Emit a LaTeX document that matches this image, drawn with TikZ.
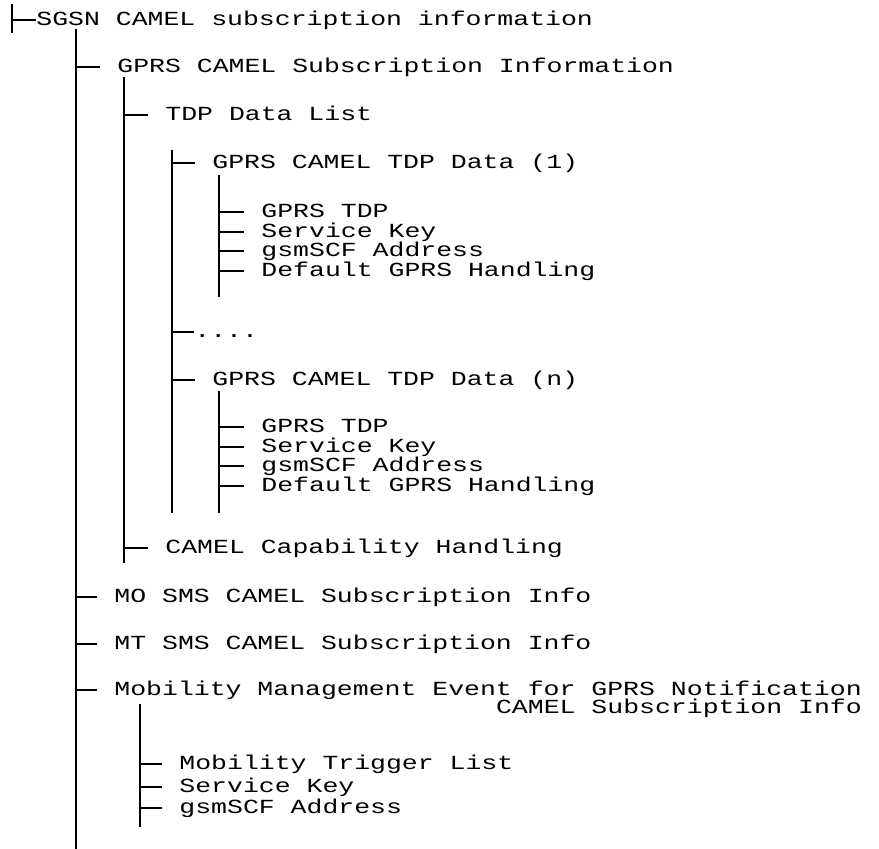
\documentclass[tikz,border=0pt]{standalone}
\usepackage{fontspec}
\usepackage{tikz}
\usetikzlibrary{calc}
\newfontfamily\treefont[FakeStretch=1.325]{Liberation Mono}

\begin{document}
\begin{tikzpicture}[
    x=0.5pt, y=-0.5pt,
    entry/.style={anchor=base west, inner sep=0pt,
                  text height=6.4pt, text depth=0pt,
                  font=\treefont\fontsize{10pt}{11pt}\selectfont},
    trunk/.style={line width=1pt},
    twig/.style={line width=1pt}
]
\useasboundingbox (0,0) rectangle (879,849);

% Entries
\node[entry] (sgsn)    at (36,26)  {SGSN CAMEL subscription information};
\node[entry] (gprs)    at (117,73) {GPRS CAMEL Subscription Information};
\node[entry] (tdplist) at (165,121) {TDP Data List};
\node[entry] (tdpone)  at (212,169) {GPRS CAMEL TDP Data (1)};
\node[entry] (oneA)    at (261,218) {GPRS TDP};
\node[entry] (oneB)    at (261,238) {Service Key};
\node[entry] (oneC)    at (261,257) {gsmSCF Address};
\node[entry] (oneD)    at (261,277) {Default GPRS Handling};
\node[entry] (dots)    at (194,338) {....};
\node[entry] (tdpn)    at (212,386) {GPRS CAMEL TDP Data (n)};
\node[entry] (nA)      at (261,433) {GPRS TDP};
\node[entry] (nB)      at (261,453) {Service Key};
\node[entry] (nC)      at (261,472) {gsmSCF Address};
\node[entry] (nD)      at (261,492) {Default GPRS Handling};
\node[entry] (caphand) at (165,554) {CAMEL Capability Handling};
\node[entry] (mosms)   at (114,603) {MO SMS CAMEL Subscription Info};
\node[entry] (mtsms)   at (114,650) {MT SMS CAMEL Subscription Info};
\node[entry] (mmevent) at (114,696) {Mobility Management Event for GPRS Notification};
\node[entry, anchor=base east] (mminfo) at ($(mmevent.base east)+(0,18)$) {CAMEL Subscription Info};
\node[entry] (mobA)    at (179,770) {Mobility Trigger List};
\node[entry] (mobB)    at (179,793) {Service Key};
\node[entry] (mobC)    at (179,814) {gsmSCF Address};

% Trunks
\coordinate (rtop) at (12,4);    \coordinate (rbot) at (12,33);
\coordinate (t1top) at (76,29);  \coordinate (t1bot) at (76,849);
\coordinate (t2top) at (124,77); \coordinate (t2bot) at (124,563);
\coordinate (t3top) at (172,150); \coordinate (t3bot) at (172,513);
\coordinate (t4top) at (219,175); \coordinate (t4bot) at (219,297);
\coordinate (t5top) at (219,391); \coordinate (t5bot) at (219,513);
\coordinate (t6top) at (140,704); \coordinate (t6bot) at (140,827);
\foreach \t in {r,t1,t2,t3,t4,t5,t6}
  \draw[trunk] (\t top) -- (\t bot);

% Branches
\draw[twig] (rtop |- sgsn.west) -- (sgsn.west);
\foreach \n in {gprs,mosms,mtsms,mmevent}
  \draw[twig] (t1top |- \n.west) -- ([xshift=-8.5pt]\n.west);
\foreach \n in {tdplist,caphand}
  \draw[twig] (t2top |- \n.west) -- ([xshift=-8.5pt]\n.west);
\foreach \n in {tdpone,tdpn}
  \draw[twig] (t3top |- \n.west) -- ([xshift=-8.5pt]\n.west);
\draw[twig] (t3top |- dots.west) -- (dots.west);
\foreach \n in {oneA,oneB,oneC,oneD}
  \draw[twig] (t4top |- \n.west) -- ([xshift=-8.5pt]\n.west);
\foreach \n in {nA,nB,nC,nD}
  \draw[twig] (t5top |- \n.west) -- ([xshift=-8.5pt]\n.west);
\foreach \n in {mobA,mobB,mobC}
  \draw[twig] (t6top |- \n.west) -- ([xshift=-8.5pt]\n.west);
\end{tikzpicture}
\end{document}
